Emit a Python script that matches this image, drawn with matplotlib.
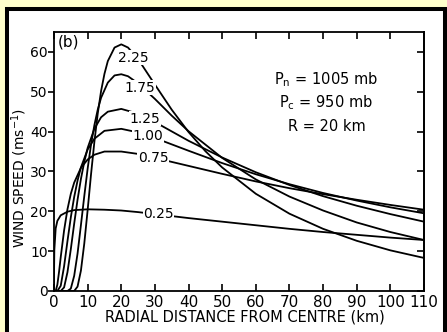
import matplotlib
matplotlib.use("Agg")
import matplotlib.pyplot as plt
from matplotlib.patches import Rectangle

# radial distance (km) and wind speed (m/s), one pair per B value
r_b025 = [0, 0.02, 0.1, 0.5, 1, 2, 4, 6, 10, 15, 20, 25, 30, 40, 50, 60, 70, 80, 90, 100, 110]
v_b025 = [0, 5.0, 10.3, 15.7, 17.6, 19.0, 19.9, 20.3, 20.5, 20.4, 20.2, 19.8, 19.3, 18.3, 17.4,
          16.5, 15.6, 14.8, 14.1, 13.4, 12.8]

r_b075 = [0, 0.5, 1, 1.5, 2, 3, 4, 5, 6, 8, 10, 12, 15, 20, 25, 30, 40, 50, 60, 70, 80, 90, 100, 110]
v_b075 = [0, 0, 1.6, 4.8, 8.5, 15.2, 20.5, 24.4, 27.2, 30.9, 33.0, 34.2, 35.0, 35.0, 34.4, 33.4,
          31.4, 29.4, 27.5, 25.8, 24.3, 22.9, 21.6, 20.4]

r_b100 = [0, 1, 2, 3, 4, 5, 6, 7, 8, 10, 12, 15, 20, 25, 30, 40, 50, 60, 70, 80, 90, 100, 110]
v_b100 = [0, 0, 1.3, 6.2, 12.5, 18.5, 23.6, 27.7, 31.0, 35.5, 38.2, 40.2, 40.7, 39.8, 38.4, 35.2,
          32.1, 29.3, 26.8, 24.6, 22.7, 21.0, 19.5]

r_b125 = [0, 2, 3, 4, 5, 6, 7, 8, 9, 10, 12, 14, 16, 20, 25, 30, 40, 50, 60, 70, 80, 90, 100, 110]
v_b125 = [0, 0, 0.9, 4.7, 10.5, 16.9, 22.9, 28.1, 32.4, 35.9, 40.7, 43.6, 45.0, 45.7, 44.5, 42.4,
          37.7, 33.5, 29.8, 26.6, 23.8, 21.4, 19.3, 17.4]

r_b175 = [0, 4, 5, 6, 7, 8, 9, 10, 11, 12, 13, 14, 16, 18, 20, 22, 25, 30, 35, 40, 50, 60, 70,
          80, 90, 100, 110]
v_b175 = [0, 0, 0.6, 3.8, 9.4, 16.5, 23.8, 30.7, 36.7, 41.6, 45.5, 48.5, 52.3, 54.1, 54.4, 53.9,
          52.1, 48.2, 44.0, 40.1, 33.4, 28.0, 23.7, 20.2, 17.2, 14.8, 12.8]

r_b225 = [0, 6, 7, 8, 9, 10, 11, 12, 13, 14, 15, 16, 18, 20, 22, 25, 30, 35, 40, 45, 50, 60, 70,
          80, 90, 100, 110]
v_b225 = [0, 0, 1.1, 5.1, 11.9, 20.3, 29.2, 37.4, 44.5, 50.2, 54.5, 57.7, 61.1, 61.9, 61.1, 58.2,
          51.8, 45.5, 39.9, 35.1, 31.0, 24.4, 19.4, 15.6, 12.6, 10.2, 8.3]

curve_labels = ["0.25", "0.75", "1.00", "1.25", "1.75", "2.25"]
label_r = [31, 29.5, 28, 27, 25.5, 23.5]
label_v = [19.2, 33.3, 38.8, 43.2, 51, 58.5]

FONT = ["Liberation Sans Narrow", "DejaVu Sans"]
plt.rcParams["font.family"] = FONT

fig = plt.figure(figsize=(4.47, 3.32), dpi=100)
fig.patch.set_facecolor("#ffffcc")

# black page frame behind the plot
frame = Rectangle((7 / 447, -0.05), 438 / 447, 1.05 - 9 / 332, transform=fig.transFigure,
                  facecolor="white", edgecolor="black", linewidth=2.9, zorder=-1)
fig.add_artist(frame)

ax = fig.add_axes([54 / 447, 41 / 332, 370 / 447, 259 / 332])
ax.set_facecolor("white")

curves = [(r_b025, v_b025), (r_b075, v_b075), (r_b100, v_b100),
          (r_b125, v_b125), (r_b175, v_b175), (r_b225, v_b225)]
for r, v in curves:
    ax.plot(r, v, color="black", linewidth=1.3, solid_capstyle="round")

for lab, lr, lv in zip(curve_labels, label_r, label_v):
    ax.text(lr, lv, lab, ha="center", va="center", fontsize=10,
            bbox=dict(facecolor="white", edgecolor="none", pad=0.3))

ax.text(1, 62.5, "(b)", fontsize=11, ha="left", va="center")

ax.text(81, 53, r"P$_\mathrm{n}$ = 1005 mb", ha="center", va="center", fontsize=10.5)
ax.text(81, 47.2, r"P$_\mathrm{c}$ = 950 mb", ha="center", va="center", fontsize=10.5)
ax.text(81, 41.2, "R = 20 km", ha="center", va="center", fontsize=10.5)

ax.set_xlim(0, 110)
ax.set_ylim(0, 65)
ax.set_xticks(range(0, 111, 10))
ax.set_yticks(range(0, 61, 10))

for s in ax.spines.values():
    s.set_linewidth(1.3)

ax.tick_params(axis="x", direction="in", top=True, length=5, width=1.2, labelsize=11, pad=3)
ax.tick_params(axis="y", direction="out", length=4, width=1.2, labelsize=10, pad=0.5)
sec = ax.secondary_yaxis("right")
sec.set_yticks(range(0, 61, 10))
sec.tick_params(direction="in", length=5, width=1.2, labelright=False)
sec.spines["right"].set_linewidth(1.3)

ax.set_xlabel("RADIAL DISTANCE FROM CENTRE (km)", fontsize=10.5)
ax.xaxis.set_label_coords(0.516, -0.073)
ax.set_ylabel(r"WIND SPEED (ms$^{-1}$)", fontsize=10)
ax.yaxis.set_label_coords(-0.068, 0.436)

fig.savefig("out.png", dpi=100, facecolor=fig.get_facecolor())
